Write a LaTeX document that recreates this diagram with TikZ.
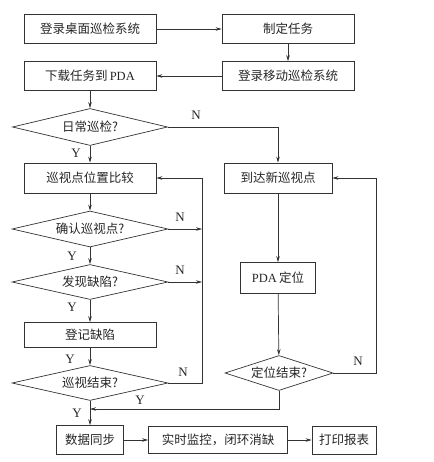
\documentclass[tikz,border=0pt]{standalone}
\usepackage{fontspec}
\setmainfont{Liberation Serif}
\newfontfamily\cjk{Noto Sans CJK SC}
\usetikzlibrary{shapes.geometric,arrows.meta}
\tikzset{
  box/.style={draw=black!80,line width=0.7pt,minimum width=132pt,minimum height=29pt,inner sep=1pt,font=\cjk\fontsize{12.5}{14}\selectfont,text=black!85},
  decide/.style={diamond,draw=black!80,line width=0.7pt,aspect=4.2,inner sep=0.5pt,minimum width=156pt,minimum height=36pt,font=\cjk\fontsize{12.5}{14}\selectfont,text=black!85},
  lab/.style={inner sep=0.75pt,font=\fontsize{13}{14}\selectfont,text=black!85},
  arr/.style={draw=black!80,line width=0.7pt,-{Stealth[length=6pt,width=3.5pt]}},
  ln/.style={draw=black!80,line width=0.7pt}
}
\begin{document}
\begin{tikzpicture}[x=1pt,y=1pt,yscale=-1]
		\useasboundingbox (0,0) rectangle (433,462);
		
		% top boxes
		\node[box] (login) at (90,29) {登录桌面巡检系统};
		\node[box] (task) at (288,29) {制定任务};
		\node[box] (mobile) at (288,76) {登录移动巡检系统};
		\node[box] (load) at (90,76) {下载任务到\,{\rmfamily PDA}};
		
		% left column
		\node[decide,minimum height=37pt,minimum width=155pt] (daily) at (90,127) {日常巡检?};
		\node[box,minimum height=30pt] (cmp) at (90,178) {巡视点位置比较};
		\node[decide] (confirm) at (90,229) {确认巡视点?};
		\node[decide,minimum height=35pt] (defect) at (90,282) {发现缺陷?};
		\node[box,minimum height=25pt] (record) at (90,335) {登记缺陷};
		\node[decide,minimum height=35pt] (done) at (90,383) {巡视结束?};
		
		% right column
		\node[box,minimum width=108pt,minimum height=30pt] (arrive) at (278,178) {到达新巡视点};
		\node[box,minimum width=75pt,minimum height=31pt] (locate) at (278,278) {{\rmfamily PDA}\,定位};
		\node[decide,minimum width=108pt,minimum height=35pt,aspect=3] (locdone) at (279,373) {定位结束?};
		
		% bottom row
		\node[box,minimum width=67pt] (sync) at (90,440) {数据同步};
		\node[box,minimum width=139pt,minimum height=27pt] (watch) at (218,440) {实时监控，闭环消缺};
		\node[box,minimum width=64pt,minimum height=28pt] (print) at (344,440) {打印报表};
		
		% corners of the loops
		\coordinate (lc) at (202,383);
		\coordinate (rc) at (376,373);
		\coordinate (jn) at (90,409);
		
		% connectors
		\draw[arr] (login) -- (task);
		\draw[arr] (task) -- (mobile);
		\draw[arr] (mobile) -- (load);
		\draw[arr] (load) -- (daily);
		\draw[arr] (daily) -- (cmp);
		\draw[arr] (daily.east) -| (locate.north |- arrive.north);
		\draw[arr] (cmp) -- (confirm);
		\draw[arr] (confirm) -- (defect);
		\draw[arr] (defect) -- (record);
		\draw[arr] (record) -- (done);
		\draw[arr] (confirm.east) -- (confirm.east -| lc);
		\draw[arr] (defect.east) -- (defect.east -| lc);
		\draw[arr] (done.east) -- (lc) |- (cmp.east);
		\draw[arr] (arrive) -- (locate);
		\draw[arr] (locate) -- (locdone);
		\draw[arr] (locdone.east) -- (rc) |- (arrive.east);
		\draw[arr] (locdone.south) |- (jn);
		\draw[arr] (done) -- (sync);
		\draw[arr] (sync) -- (watch);
		\draw[arr] (watch) -- (print);
		
		% Text Node
		\node[lab] (n1) at (196,115) {N};
		\node[lab] (y1) at (76,153) {Y};
		\node[lab] (n2) at (180,217) {N};
		\node[lab] (y2) at (72,256) {Y};
		\node[lab] (n3) at (180,270) {N};
		\node[lab] (y3) at (72,307) {Y};
		\node[lab] (y4) at (70,359) {Y};
		\node[lab] (n4) at (183,372) {N};
		\node[lab] (y5) at (77,413) {Y};
		\node[lab] (y6) at (140,400) {Y};
		\node[lab] (n5) at (358,361) {N};
	\end{tikzpicture}
\end{document}
